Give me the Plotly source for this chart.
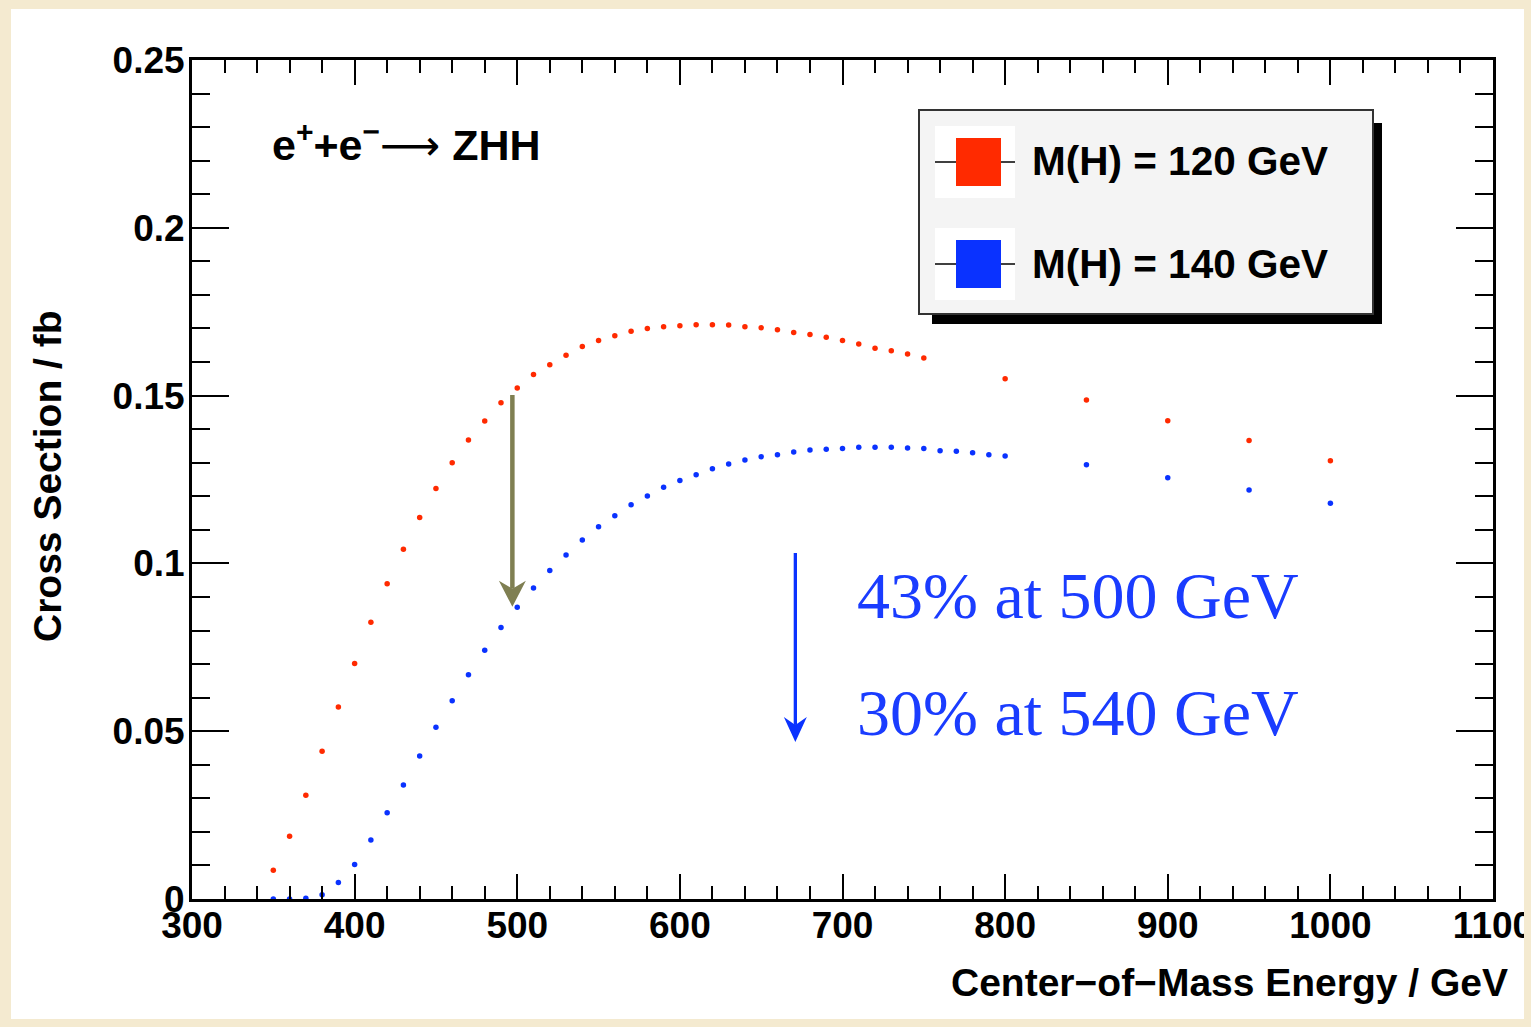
import plotly.graph_objects as go

# ---------------- data ----------------
energy_120 = [350, 360, 370, 380, 390, 400, 410, 420, 430, 440, 450, 460, 470, 480, 490,
              500, 510, 520, 530, 540, 550, 560, 570, 580, 590, 600, 610, 620, 630, 640,
              650, 660, 670, 680, 690, 700, 710, 720, 730, 740, 750, 800, 850, 900, 950, 1000]
xsec_120 = [0.0086, 0.0187, 0.0309, 0.0440, 0.0572, 0.0702, 0.0825, 0.0939, 0.1042, 0.1137,
            0.1223, 0.1300, 0.1368, 0.1424, 0.1479, 0.1523, 0.1563, 0.1592, 0.1620, 0.1646,
            0.1664, 0.1678, 0.1692, 0.1700, 0.1705, 0.1708, 0.1711, 0.1711, 0.1710, 0.1705,
            0.1702, 0.1696, 0.1688, 0.1682, 0.1674, 0.1664, 0.1654, 0.1641, 0.1634, 0.1624,
            0.1612, 0.1550, 0.1487, 0.1425, 0.1366, 0.1306]

energy_140 = [350, 360, 370, 380, 390, 400, 410, 420, 430, 440, 450, 460, 470, 480, 490,
              500, 510, 520, 530, 540, 550, 560, 570, 580, 590, 600, 610, 620, 630, 640,
              650, 660, 670, 680, 690, 700, 710, 720, 730, 740, 750, 760, 770, 780, 790,
              800, 850, 900, 950, 1000]
xsec_140 = [0.0, 0.0, 0.0002, 0.0013, 0.0049, 0.0103, 0.0176, 0.0257, 0.0340, 0.0426,
            0.0512, 0.0591, 0.0668, 0.0741, 0.0809, 0.0869, 0.0927, 0.0979, 0.1025, 0.1070,
            0.1109, 0.1142, 0.1175, 0.1201, 0.1227, 0.1247, 0.1264, 0.1282, 0.1296, 0.1308,
            0.1318, 0.1324, 0.1332, 0.1338, 0.1340, 0.1342, 0.1346, 0.1346, 0.1346, 0.1344,
            0.1342, 0.1336, 0.1334, 0.1330, 0.1324, 0.1320, 0.1294, 0.1255, 0.1219, 0.1179]

series_names = ["M(H) = 120 GeV", "M(H) = 140 GeV"]
x_tick_vals = [300, 400, 500, 600, 700, 800, 900, 1000, 1100]
x_tick_text = ["300", "400", "500", "600", "700", "800", "900", "1000", "1100"]
y_tick_vals = [0, 0.05, 0.1, 0.15, 0.2, 0.25]
y_tick_text = ["0", "0.05", "0.1", "0.15", "0.2", "0.25"]

# arrows: (energy, from, to)
olive_arrow = (497, 0.1502, 0.0871)
blue_arrow = (671, 0.1031, 0.0468)
note_lines = ["43% at 500 GeV", "30% at 540 GeV"]

# ---------------- style ----------------
W, H = 1531, 1027
L, R, T, B = 192, 38, 60, 128
PW, PH = W - L - R, H - T - B
YPX = 0.25 / PH  # data units per pixel on y
RED = "#ff2a00"
BLUE = "#0a32ff"
TXTBLUE = "#1a3cff"
OLIVE = "#7f7f52"
BEIGE = "#f4ead0"
SANS = "Liberation Sans, Arial, Helvetica, sans-serif"
SERIF = "Liberation Serif, Times New Roman, serif"


def px(x):
    return (x - L) / PW


def py(y):
    return (H - B - y) / PH


fig = go.Figure()
fig.add_trace(go.Scatter(x=energy_120, y=xsec_120, mode="markers", name=series_names[0],
                         marker=dict(color=RED, size=5.5), cliponaxis=False))
fig.add_trace(go.Scatter(x=energy_140, y=xsec_140, mode="markers", name=series_names[1],
                         marker=dict(color=BLUE, size=5.5), cliponaxis=False))

axis_common = dict(showline=True, linewidth=3, linecolor="black", mirror="allticks",
                   ticks="inside", tickwidth=2, tickcolor="black", showgrid=False,
                   zeroline=False, ticklabeloverflow="allow",
                   tickfont=dict(family=SANS, size=37, color="black", weight="bold"))

fig.update_xaxes(range=[300, 1100], tickvals=x_tick_vals, ticktext=x_tick_text, ticklen=25,
                 minor=dict(dtick=20, tick0=300, ticklen=13, tickwidth=2, ticks="inside",
                            tickcolor="black"),
                 ticklabelstandoff=-8, **axis_common)
fig.update_yaxes(range=[0, 0.25], tickvals=y_tick_vals, ticktext=y_tick_text, ticklen=37,
                 minor=dict(dtick=0.01, tick0=0, ticklen=18, tickwidth=2, ticks="inside",
                            tickcolor="black"),
                 ticklabelstandoff=-3, **axis_common)

shapes = []
# white panel on beige page
shapes.append(dict(type="rect", xref="paper", yref="paper", x0=px(11), x1=px(1524),
                   y0=py(1019), y1=py(9), fillcolor="white", line=dict(width=0), layer="below"))
# right beige strip (clips the last tick label like the original)
shapes.append(dict(type="rect", xref="paper", yref="paper", x0=px(1524), x1=px(1535),
                   y0=py(1030), y1=py(-5), fillcolor=BEIGE, line=dict(width=0), layer="above"))
# legend: shadow, box, entries
shapes.append(dict(type="rect", xref="paper", yref="paper", x0=px(932), x1=px(1382),
                   y0=py(324), y1=py(123), fillcolor="black", line=dict(width=0), layer="above"))
shapes.append(dict(type="rect", xref="paper", yref="paper", x0=px(919), x1=px(1373),
                   y0=py(314), y1=py(110), fillcolor="#f4f4f4",
                   line=dict(width=2, color="#333333"), layer="above"))
for (yt, yb, col) in [(126, 198, RED), (228, 300, BLUE)]:
    shapes.append(dict(type="rect", xref="paper", yref="paper", x0=px(935), x1=px(1015),
                       y0=py(yb), y1=py(yt), fillcolor="white", line=dict(width=0), layer="above"))
    ym = (yt + yb) / 2
    shapes.append(dict(type="line", xref="paper", yref="paper", x0=px(935), x1=px(1015),
                       y0=py(ym), y1=py(ym), line=dict(width=1.5, color="black"), layer="above"))
    shapes.append(dict(type="rect", xref="paper", yref="paper", x0=px(956), x1=px(1001),
                       y0=py(ym + 24), y1=py(ym - 24), fillcolor=col, line=dict(width=0),
                       layer="above"))

# arrows (shaft in data coords, head drawn in pixel units anchored at the tip)
for (ex, y_from, y_to), col, lw, hw, hl, notch in [
        (olive_arrow, OLIVE, 4.5, 13.5, 26, 18),
        (blue_arrow, BLUE, 3.3, 11.5, 25, 17)]:
    shapes.append(dict(type="line", xref="x", yref="y", x0=ex, x1=ex, y0=y_from,
                       y1=y_to + notch * YPX, line=dict(width=lw, color=col), layer="above"))
    shapes.append(dict(type="path", xref="x", yref="y", xsizemode="pixel", ysizemode="pixel",
                       xanchor=ex, yanchor=y_to,
                       path=f"M0,0 L{-hw},{hl} L0,{notch} L{hw},{hl} Z",
                       fillcolor=col, line=dict(width=0), layer="above"))

annotations = []
annotations.append(dict(xref="paper", yref="paper", x=px(1030), y=py(161), xanchor="left",
                        yanchor="middle", showarrow=False, text=series_names[0],
                        font=dict(family=SANS, size=40.5, color="black", weight="bold")))
annotations.append(dict(xref="paper", yref="paper", x=px(1030), y=py(264), xanchor="left",
                        yanchor="middle", showarrow=False, text=series_names[1],
                        font=dict(family=SANS, size=40.5, color="black", weight="bold")))
# process label
annotations.append(dict(xref="paper", yref="paper", x=px(270), y=py(142), xanchor="left",
                        yanchor="middle", showarrow=False,
                        text=("e<sup>+</sup>+e<sup>−</sup>"
                              "<span style=\"font-family:'DejaVu Sans';font-weight:normal;font-size:42px\">⟶</span>"
                              " ZHH"),
                        font=dict(family=SANS, size=43, color="black", weight="bold")))
# axis titles
annotations.append(dict(xref="paper", yref="paper", x=px(1510), y=py(983), xanchor="right",
                        yanchor="middle", showarrow=False, text="Center−of−Mass Energy / GeV",
                        font=dict(family=SANS, size=39, color="black", weight="bold")))
annotations.append(dict(xref="paper", yref="paper", x=px(48), y=py(476), xanchor="center",
                        yanchor="middle", showarrow=False, text="Cross Section / fb",
                        textangle=-90,
                        font=dict(family=SANS, size=39, color="black", weight="bold")))
# notes
annotations.append(dict(xref="paper", yref="paper", x=px(855), y=py(595), xanchor="left",
                        yanchor="middle", showarrow=False, text=note_lines[0],
                        font=dict(family=SERIF, size=66, color=TXTBLUE)))
annotations.append(dict(xref="paper", yref="paper", x=px(855), y=py(712), xanchor="left",
                        yanchor="middle", showarrow=False, text=note_lines[1],
                        font=dict(family=SERIF, size=66, color=TXTBLUE)))

fig.update_layout(width=W, height=H, margin=dict(l=L, r=R, t=T, b=B, autoexpand=False),
                  paper_bgcolor=BEIGE, plot_bgcolor="white", showlegend=False,
                  shapes=shapes, annotations=annotations)

fig.write_html("out.html", config={"displayModeBar": False},
               post_script=("document.body.style.margin='0';"
                            "document.body.style.background='" + BEIGE + "';"
                            "document.documentElement.style.overflow='hidden';"))
